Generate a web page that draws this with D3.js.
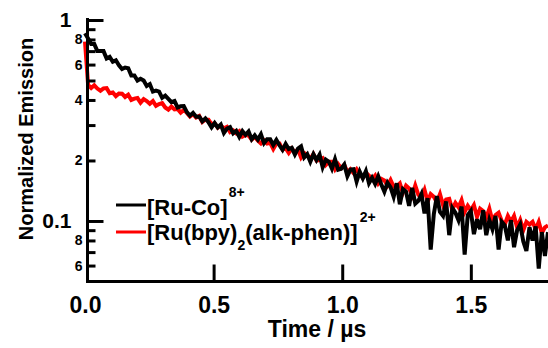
<!DOCTYPE html>
<html>
<head>
<meta charset="utf-8">
<script src="https://cdn.jsdelivr.net/npm/d3@7"></script>
<style>
  body { margin: 0; background: #fff; }
  text { font-family: "Liberation Sans", Arial, sans-serif; font-weight: bold; }
</style>
</head>
<body>
<div id="chart"></div>
<script>
"use strict";

// sampling of the transient: start time and step, microseconds
const timeStart = 0;
const timeStep = 0.012;

// [Ru-Co]8+ normalized emission
const ruCo = [
  0.86, 0.81, 0.76, 0.76, 0.70, 0.70, 0.70, 0.643, 0.655, 0.62,
  0.63, 0.595, 0.57, 0.58, 0.575, 0.53, 0.53, 0.50, 0.51, 0.50,
  0.47, 0.48, 0.44, 0.445, 0.44, 0.41, 0.42, 0.405, 0.39, 0.395,
  0.367, 0.372, 0.373, 0.348, 0.334, 0.345, 0.330, 0.331, 0.313, 0.324,
  0.310, 0.292, 0.307, 0.292, 0.302, 0.274, 0.288, 0.293, 0.273, 0.281,
  0.262, 0.280, 0.268, 0.279, 0.255, 0.267, 0.254, 0.270, 0.244, 0.255,
  0.255, 0.239, 0.253, 0.238, 0.226, 0.242, 0.228, 0.231, 0.214, 0.229,
  0.235, 0.207, 0.215, 0.197, 0.215, 0.201, 0.214, 0.185, 0.202, 0.197,
  0.182, 0.203, 0.180, 0.182, 0.191, 0.167, 0.180, 0.181, 0.157, 0.176,
  0.163, 0.177, 0.154, 0.164, 0.153, 0.167, 0.152, 0.140, 0.155, 0.147,
  0.132, 0.154, 0.121, 0.144, 0.140, 0.119, 0.146, 0.122, 0.126, 0.136,
  0.109, 0.130, 0.072, 0.108, 0.133, 0.111, 0.106, 0.125, 0.085, 0.116,
  0.110, 0.101, 0.118, 0.068, 0.107, 0.112, 0.086, 0.102, 0.091, 0.113,
  0.085, 0.101, 0.091, 0.106, 0.072, 0.099, 0.095, 0.080, 0.101, 0.074,
  0.090, 0.096, 0.079, 0.071, 0.093, 0.080, 0.094, 0.058, 0.088, 0.067,
  0.088
];

// [Ru(bpy)2(alk-phen)]2+ normalized emission
const ruRef = [
  0.78, 0.475, 0.459, 0.473, 0.456, 0.445, 0.457, 0.458, 0.432, 0.436,
  0.418, 0.431, 0.430, 0.414, 0.425, 0.400, 0.406, 0.409, 0.388, 0.404,
  0.395, 0.383, 0.395, 0.374, 0.382, 0.386, 0.367, 0.358, 0.371, 0.359,
  0.361, 0.346, 0.357, 0.345, 0.331, 0.340, 0.327, 0.333, 0.311, 0.319,
  0.319, 0.303, 0.306, 0.291, 0.299, 0.289, 0.294, 0.277, 0.282, 0.273,
  0.280, 0.263, 0.268, 0.266, 0.254, 0.262, 0.251, 0.243, 0.252, 0.243,
  0.245, 0.228, 0.243, 0.243, 0.227, 0.230, 0.218, 0.229, 0.219, 0.227,
  0.207, 0.218, 0.213, 0.203, 0.215, 0.200, 0.201, 0.205, 0.190, 0.197,
  0.197, 0.181, 0.192, 0.183, 0.190, 0.175, 0.181, 0.173, 0.181, 0.171,
  0.164, 0.174, 0.168, 0.161, 0.168, 0.154, 0.162, 0.159, 0.150, 0.160,
  0.148, 0.149, 0.154, 0.138, 0.150, 0.145, 0.134, 0.150, 0.135, 0.131,
  0.143, 0.125, 0.136, 0.132, 0.124, 0.136, 0.120, 0.128, 0.129, 0.114,
  0.123, 0.117, 0.127, 0.111, 0.119, 0.113, 0.120, 0.105, 0.115, 0.112,
  0.104, 0.115, 0.100, 0.107, 0.110, 0.100, 0.096, 0.106, 0.099, 0.106,
  0.093, 0.101, 0.090, 0.099, 0.096, 0.099, 0.091, 0.099, 0.087, 0.093,
  0.095
];

const yMinorTicks = [0.06, 0.07, 0.08, 0.09, 0.2, 0.3, 0.4, 0.5, 0.6, 0.7, 0.8, 0.9];
const yMinorLabels = {0.06: "6", 0.08: "8", 0.2: "2", 0.4: "4", 0.6: "6", 0.8: "8"};
const yMajorTicks = [0.1, 1];
const xTicks = [0.5, 1.0, 1.5];
const xLabels = [0, 0.5, 1.0, 1.5];

const plot = {
    width: 548,
    height: 348,
    left: 85,
    right: 548,
    top: 18,
    bottom: 282
}

let svg = d3.select("#chart")
    .append("svg")
    .attr("width", plot.width)
    .attr("height", plot.height);

let xScale = d3.scaleLinear()
    .domain([0, 1.8])
    .range([plot.left, plot.right]);

let yScale = d3.scaleLog()
    .domain([0.0497, 1.023])
    .range([plot.bottom, plot.top]);

function toPoints(values) {
    return values.map((v, i) => ({t: timeStart + i * timeStep, v: v}));
}

drawData();
drawAxes();
drawLegend();

function drawData() {
    let line = d3.line()
        .x((d) => xScale(d.t))
        .y((d) => yScale(d.v));

    svg.append("path")
        .datum(toPoints(ruRef))
        .attr("fill", "none")
        .attr("stroke", "#ff0000")
        .attr("stroke-width", 4)
        .attr("d", line);

    svg.append("path")
        .datum(toPoints(ruCo))
        .attr("fill", "none")
        .attr("stroke", "#000000")
        .attr("stroke-width", 4)
        .attr("d", line);
}

function drawAxes() {
    let axisX = 87.5;

    // minor y ticks, some labelled with one digit
    let yMinor = svg.append("g")
        .attr("transform", "translate(" + axisX + ",0)")
        .call(d3.axisLeft(yScale)
            .tickValues(yMinorTicks)
            .tickSize(-8)
            .tickSizeOuter(0)
            .tickPadding(5)
            .tickFormat((d) => yMinorLabels[d] || ""));
    yMinor.select(".domain").remove();
    yMinor.selectAll("text")
        .attr("font-size", "14px");

    let yMajor = svg.append("g")
        .attr("transform", "translate(" + axisX + ",0)")
        .call(d3.axisLeft(yScale)
            .tickValues(yMajorTicks)
            .tickSize(-16)
            .tickSizeOuter(0)
            .tickPadding(16)
            .tickFormat((d) => d == 1 ? "1" : "0.1"));
    yMajor.select(".domain").remove();
    yMajor.selectAll("text")
        .attr("font-size", "21px");

    let xAxis = svg.append("g")
        .attr("transform", "translate(0," + (plot.bottom - 0.5) + ")")
        .call(d3.axisBottom(xScale)
            .tickValues(xLabels)
            .tickSize(-17)
            .tickSizeOuter(0)
            .tickPadding(15)
            .tickFormat(d3.format(".1f")));
    xAxis.select(".domain").remove();
    xAxis.selectAll("text")
        .attr("font-size", "23px");
    xAxis.selectAll(".tick")
        .filter((d) => xTicks.indexOf(d) < 0)
        .select("line").remove();

    svg.selectAll(".tick line")
        .attr("stroke", "#000")
        .attr("stroke-width", 3);
    svg.selectAll(".tick text")
        .attr("fill", "#000")
        .attr("font-family", null);

    // axis lines
    svg.append("line")
        .attr("x1", axisX).attr("x2", axisX)
        .attr("y1", plot.top).attr("y2", plot.bottom + 1)
        .attr("stroke", "#000")
        .attr("stroke-width", 3);
    svg.append("line")
        .attr("x1", axisX - 1.5).attr("x2", plot.right)
        .attr("y1", plot.bottom - 0.5).attr("y2", plot.bottom - 0.5)
        .attr("stroke", "#000")
        .attr("stroke-width", 3);

    svg.append("text")
        .attr("x", 317)
        .attr("y", 337)
        .attr("text-anchor", "middle")
        .attr("font-size", "23px")
        .text("Time / \u00b5s");

    svg.append("text")
        .attr("transform", "translate(33,139) rotate(-90)")
        .attr("text-anchor", "middle")
        .attr("font-size", "20px")
        .text("Normalized Emission");
}

function drawLegend() {
    let swatches = [
        {color: "#000000", y: 205},
        {color: "#ff0000", y: 232}
    ];

    swatches.forEach((e) => {
        svg.append("line")
            .attr("x1", 116).attr("x2", 146)
            .attr("y1", e.y).attr("y2", e.y)
            .attr("stroke", e.color)
            .attr("stroke-width", 3);
    });

    let t1 = svg.append("text")
        .attr("x", 147)
        .attr("y", 215)
        .attr("font-size", "22px");
    t1.append("tspan").text("[Ru-Co]");
    t1.append("tspan")
        .attr("dx", 1)
        .attr("dy", -18)
        .attr("font-size", "14px")
        .text("8+");

    let t2 = svg.append("text")
        .attr("x", 147)
        .attr("y", 240)
        .attr("font-size", "22px");
    t2.append("tspan").text("[Ru(bpy)");
    t2.append("tspan")
        .attr("dy", 10)
        .attr("font-size", "14px")
        .text("2");
    t2.append("tspan")
        .attr("dy", -10)
        .text("(alk-phen)]");
    t2.append("tspan")
        .attr("dx", 2)
        .attr("dy", -18)
        .attr("font-size", "14px")
        .text("2+");
}
</script>
</body>
</html>
